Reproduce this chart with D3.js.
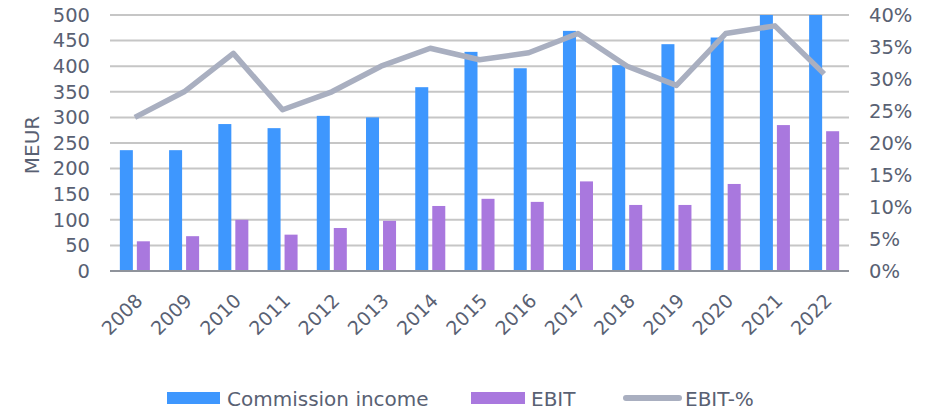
<!DOCTYPE html>
<html><head><meta charset="utf-8">
<script src="https://cdn.jsdelivr.net/npm/d3@7"></script>
<style>
body{margin:0;background:#fff;}
svg text{font-family:"DejaVu Sans",Verdana,sans-serif;fill:#596173;}
</style></head>
<body><svg id="c" width="934" height="411"></svg>
<script>
const years = ["2008","2009","2010","2011","2012","2013","2014","2015","2016","2017","2018","2019","2020","2021","2022"];
const commissionIncome = [236,236,287,279,303,300,359,428,396,469,402,443,456,500,500];
const ebit = [58,68,100,71,84,98,127,141,135,175,129,129,170,285,273];
const ebitPct = [24.0,28.0,34.0,25.2,28.0,32.0,34.8,33.0,34.1,37.1,32.0,29.0,37.1,38.3,30.8];
const leftTicks = [0,50,100,150,200,250,300,350,400,450,500];
const rightTicks = [0,5,10,15,20,25,30,35,40];
const seriesNames = ["Commission income","EBIT","EBIT-%"];

const svg = d3.select("#c");
const L=110, R=849, T=15, B=271;
const x0 = d3.scaleBand().domain(years).range([L,R]).paddingInner(0.39).paddingOuter(0.2);
const x1 = d3.scaleBand().domain(["ci","ebit"]).range([0,x0.bandwidth()]).paddingInner(0.235);
const y = d3.scaleLinear().domain([0,500]).range([B,T]);
const y2 = d3.scaleLinear().domain([0,40]).range([B,T]);

// gridlines
svg.append("g").selectAll("line").data(leftTicks.filter(d=>d>0)).join("line")
  .attr("x1",L).attr("x2",R).attr("y1",d=>y(d)).attr("y2",d=>y(d))
  .attr("stroke","#c6c6c6").attr("stroke-width",2);

// left axis labels
const ax = svg.append("g").attr("transform",`translate(${L},0)`)
  .call(d3.axisLeft(y).tickValues(leftTicks).tickSize(0).tickPadding(20));
ax.select(".domain").remove();
ax.selectAll("text").attr("font-size","19.5px").style("font-family","DejaVu Sans").attr("fill","#596173");

const ax2 = svg.append("g").attr("transform",`translate(${R},0)`)
  .call(d3.axisRight(y2).tickValues(rightTicks).tickFormat(d=>d+"%").tickSize(0).tickPadding(20));
ax2.select(".domain").remove();
ax2.selectAll("text").attr("font-size","19.5px").style("font-family","DejaVu Sans").attr("fill","#596173");

// bars
const groups = svg.append("g").selectAll("g").data(years).join("g")
  .attr("transform",d=>`translate(${x0(d)},0)`);
groups.append("rect").attr("x",x1("ci")).attr("width",x1.bandwidth())
  .attr("y",(d,i)=>y(commissionIncome[i])).attr("height",(d,i)=>B-y(commissionIncome[i]))
  .attr("fill","#3e97fe");
groups.append("rect").attr("x",x1("ebit")).attr("width",x1.bandwidth())
  .attr("y",(d,i)=>y(ebit[i])).attr("height",(d,i)=>B-y(ebit[i]))
  .attr("fill","#a978de");

// baseline
svg.append("line").attr("x1",L).attr("x2",R).attr("y1",B).attr("y2",B)
  .attr("stroke","#8f939b").attr("stroke-width",2);

// line
const line = d3.line().x((d,i)=>x0(years[i])+x0.bandwidth()/2).y(d=>y2(d));
svg.append("path").datum(ebitPct).attr("d",line).attr("fill","none")
  .attr("stroke","#a9afc0").attr("stroke-width",5.5).attr("stroke-linejoin","round");

// x labels
const xa = svg.append("g").attr("transform",`translate(0,${B})`)
  .call(d3.axisBottom(x0).tickSize(0).tickPadding(0));
xa.select(".domain").remove();
xa.selectAll("text").attr("font-size","19px").style("font-family","DejaVu Sans").attr("fill","#596173")
  .attr("text-anchor","end").attr("dy",0)
  .attr("transform","translate(9,31) rotate(-45)");

// y title
svg.append("text").attr("transform","translate(39,145) rotate(-90)").attr("text-anchor","middle")
  .attr("font-size","20px").text("MEUR");

// legend
const lg = svg.append("g");
lg.append("rect").attr("x",167).attr("y",392).attr("width",53).attr("height",12).attr("fill","#3e97fe");
lg.append("text").attr("x",227).attr("y",406).attr("font-size","20px").text(seriesNames[0]);
lg.append("rect").attr("x",471).attr("y",392).attr("width",54).attr("height",12).attr("fill","#a978de");
lg.append("text").attr("x",531).attr("y",406).attr("font-size","20px").text(seriesNames[1]);
lg.append("line").attr("x1",626).attr("x2",679).attr("y1",398).attr("y2",398).attr("stroke","#a9afc0").attr("stroke-width",6).attr("stroke-linecap","round");
lg.append("text").attr("x",685).attr("y",406).attr("font-size","20px").text(seriesNames[2]);
</script></body></html>
